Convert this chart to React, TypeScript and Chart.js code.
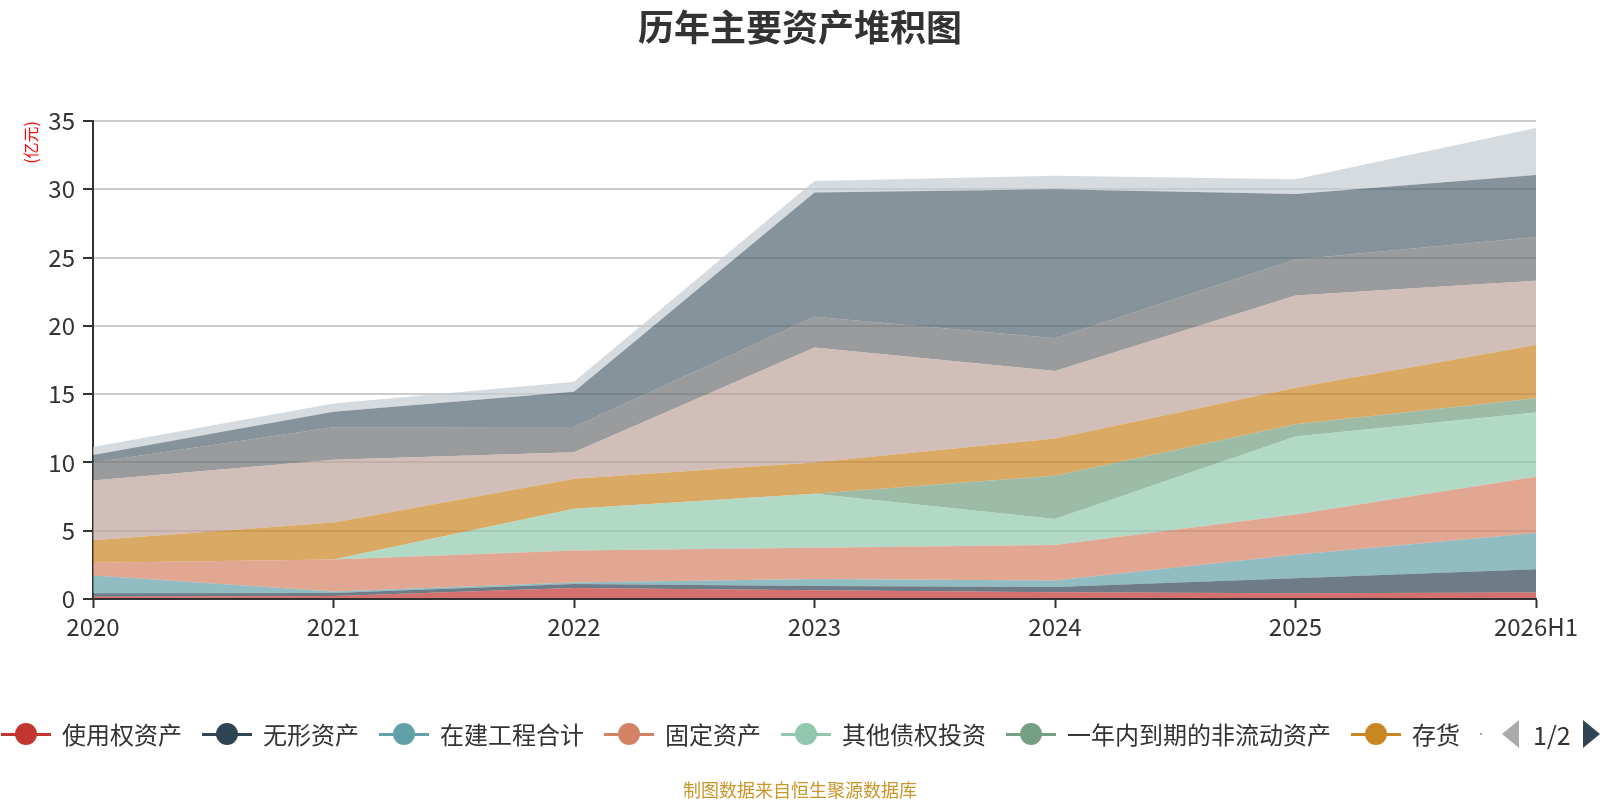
import { useEffect, useRef } from 'react'
import { Chart, registerables } from 'chart.js'

Chart.register(...registerables)

const FONT = "'Noto Sans CJK SC', 'Noto Sans', sans-serif"

// 年份
const years = ['2020', '2021', '2022', '2023', '2024', '2025', '2026H1']

// 各项资产（亿元），自下而上堆积
const rightOfUse = [0.17, 0.22, 0.8, 0.64, 0.5, 0.42, 0.47]
const intangible = [0.25, 0.22, 0.3, 0.31, 0.37, 1.1, 1.71]
const construction = [1.3, 0.11, 0.1, 0.52, 0.49, 1.72, 2.65]
const fixedAssets = [0.93, 2.35, 2.35, 2.28, 2.59, 2.94, 4.12]
const otherDebtInv = [0, 0, 3.05, 3.95, 1.9, 5.71, 4.7]
const dueWithinYear = [0, 0, 0, 0, 3.17, 0.9, 1.05]
const inventory = [1.65, 2.7, 2.2, 2.3, 2.73, 2.68, 3.9]
const receivables = [4.37, 4.6, 1.95, 8.41, 4.95, 6.76, 4.7]
const longTermEquity = [1.33, 2.38, 1.85, 2.25, 2.4, 2.62, 3.2]
const tradingAssets = [0.54, 1.13, 2.57, 9.1, 10.9, 4.81, 4.54]
const cash = [0.59, 0.61, 0.73, 0.84, 1.0, 1.07, 3.45]

const seriesNames = [
  '使用权资产',
  '无形资产',
  '在建工程合计',
  '固定资产',
  '其他债权投资',
  '一年内到期的非流动资产',
  '存货',
  '应收账款',
  '长期股权投资',
  '交易性金融资产',
  '货币资金',
]
const seriesValues = [
  rightOfUse,
  intangible,
  construction,
  fixedAssets,
  otherDebtInv,
  dueWithinYear,
  inventory,
  receivables,
  longTermEquity,
  tradingAssets,
  cash,
]
const colors = [
  '#c23531', '#2f4554', '#61a0a8', '#d48265', '#91c7ae', '#749f83',
  '#ca8622', '#bda29a', '#6e7074', '#546570', '#c4ccd3',
]

const yTicks = [0, 5, 10, 15, 20, 25, 30, 35]

// legend page 1 shows the first 7 series
const legendCount = 7

function rgba(hex: string, a: number) {
  const n = parseInt(hex.slice(1), 16)
  return `rgba(${(n >> 16) & 255},${(n >> 8) & 255},${n & 255},${a})`
}

// redraw the x axis line over the filled areas
const axisOnTop = {
  id: 'axisOnTop',
  afterDatasetsDraw(chart: any) {
    const { ctx, chartArea } = chart
    ctx.save()
    ctx.strokeStyle = '#333'
    ctx.lineWidth = 2
    ctx.beginPath()
    ctx.moveTo(chartArea.left - 1, chartArea.bottom)
    ctx.lineTo(chartArea.right, chartArea.bottom)
    ctx.stroke()
    ctx.restore()
  },
}

export default function App() {
  const canvasRef = useRef<HTMLCanvasElement>(null)
  const chartRef = useRef<Chart | null>(null)

  useEffect(() => {
    if (!canvasRef.current) return
    if (chartRef.current) chartRef.current.destroy()

    chartRef.current = new Chart(canvasRef.current, {
      type: 'line',
      data: {
        labels: years,
        datasets: seriesNames.map((name, i) => ({
          label: name,
          data: seriesValues[i],
          backgroundColor: rgba(colors[i], 0.7),
          borderColor: colors[i],
          borderWidth: 0,
          pointRadius: 0,
          tension: 0,
          fill: i === 0 ? 'origin' : '-1',
        })),
      },
      plugins: [axisOnTop],
      options: {
        responsive: false,
        animation: false,
        layout: { padding: { left: 0, right: 64, top: 121, bottom: 161 } },
        plugins: {
          legend: { display: false },
          tooltip: { enabled: false },
        },
        scales: {
          x: {
            type: 'category',
            offset: false,
            afterFit: (scale: any) => {
              scale.height = 40
            },
            border: { display: true, color: '#333', width: 2 },
            grid: {
              drawOnChartArea: false,
              drawTicks: true,
              tickLength: 9,
              tickColor: '#333',
              tickWidth: 2,
            },
            ticks: {
              color: '#333',
              font: { family: FONT, size: 24 },
              padding: 4,
              autoSkip: false,
              maxRotation: 0,
            },
          },
          y: {
            stacked: true,
            min: 0,
            max: 35,
            afterFit: (scale: any) => {
              scale.width = 93
            },
            afterBuildTicks: (scale: any) => {
              scale.ticks = yTicks.map(v => ({ value: v }))
            },
            border: { display: true, color: '#333', width: 2 },
            grid: {
              color: '#cccccc',
              lineWidth: 2,
              tickLength: 10,
              tickColor: '#333',
              tickWidth: 2,
            },
            ticks: {
              color: '#333',
              font: { family: FONT, size: 24 },
              padding: 8,
            },
            title: {
              display: true,
              text: '(亿元)',
              color: 'red',
              align: 'end',
              font: { family: FONT, size: 16 },
              padding: { top: 21, bottom: 0 },
            },
          },
        },
      },
    })

    return () => {
      if (chartRef.current) {
        chartRef.current.destroy()
        chartRef.current = null
      }
    }
  }, [])

  return (
    <div style={{ position: 'fixed', left: 0, top: 0, width: 1600, height: 800, background: '#fff', fontFamily: FONT }}>
      <canvas ref={canvasRef} width={1600} height={800} />
      <div
        style={{
          position: 'absolute',
          left: 0,
          width: 1600,
          top: 4,
          textAlign: 'center',
          fontSize: 36,
          fontWeight: 'bold',
          lineHeight: '43px',
          color: '#333',
        }}
      >
        历年主要资产堆积图
      </div>
      <div
        style={{
          position: 'absolute',
          left: 1,
          top: 716,
          height: 36,
          display: 'flex',
          alignItems: 'center',
          gap: 20,
          whiteSpace: 'nowrap',
        }}
      >
        {seriesNames.slice(0, legendCount).map((name, i) => (
          <div key={name} style={{ display: 'flex', alignItems: 'center' }}>
            <div style={{ position: 'relative', width: 50, height: 22, marginRight: 11 }}>
              <div style={{ position: 'absolute', left: 0, top: 10, width: 50, height: 3, background: colors[i] }} />
              <div style={{ position: 'absolute', left: 14, top: 0, width: 22, height: 22, borderRadius: '50%', background: colors[i] }} />
            </div>
            <span style={{ fontSize: 24, color: '#333', lineHeight: '36px' }}>{name}</span>
          </div>
        ))}
      </div>
      <div style={{ position: 'absolute', left: 1480, top: 733, width: 2, height: 2, background: colors[7] }} />
      <div
        style={{
          position: 'absolute',
          left: 1502,
          top: 720,
          width: 0,
          height: 0,
          borderTop: '14.5px solid transparent',
          borderBottom: '14.5px solid transparent',
          borderRight: '17px solid #aaa',
        }}
      />
      <div style={{ position: 'absolute', left: 1533, top: 716, fontSize: 25, lineHeight: '36px', color: '#333' }}>1/2</div>
      <div
        style={{
          position: 'absolute',
          left: 1583,
          top: 720,
          width: 0,
          height: 0,
          borderTop: '14.5px solid transparent',
          borderBottom: '14.5px solid transparent',
          borderLeft: '17px solid #2f4554',
        }}
      />
      <div
        style={{
          position: 'absolute',
          left: 0,
          width: 1600,
          top: 777,
          textAlign: 'center',
          fontSize: 18,
          lineHeight: '24px',
          color: '#c9962b',
        }}
      >
        制图数据来自恒生聚源数据库
      </div>
    </div>
  )
}
